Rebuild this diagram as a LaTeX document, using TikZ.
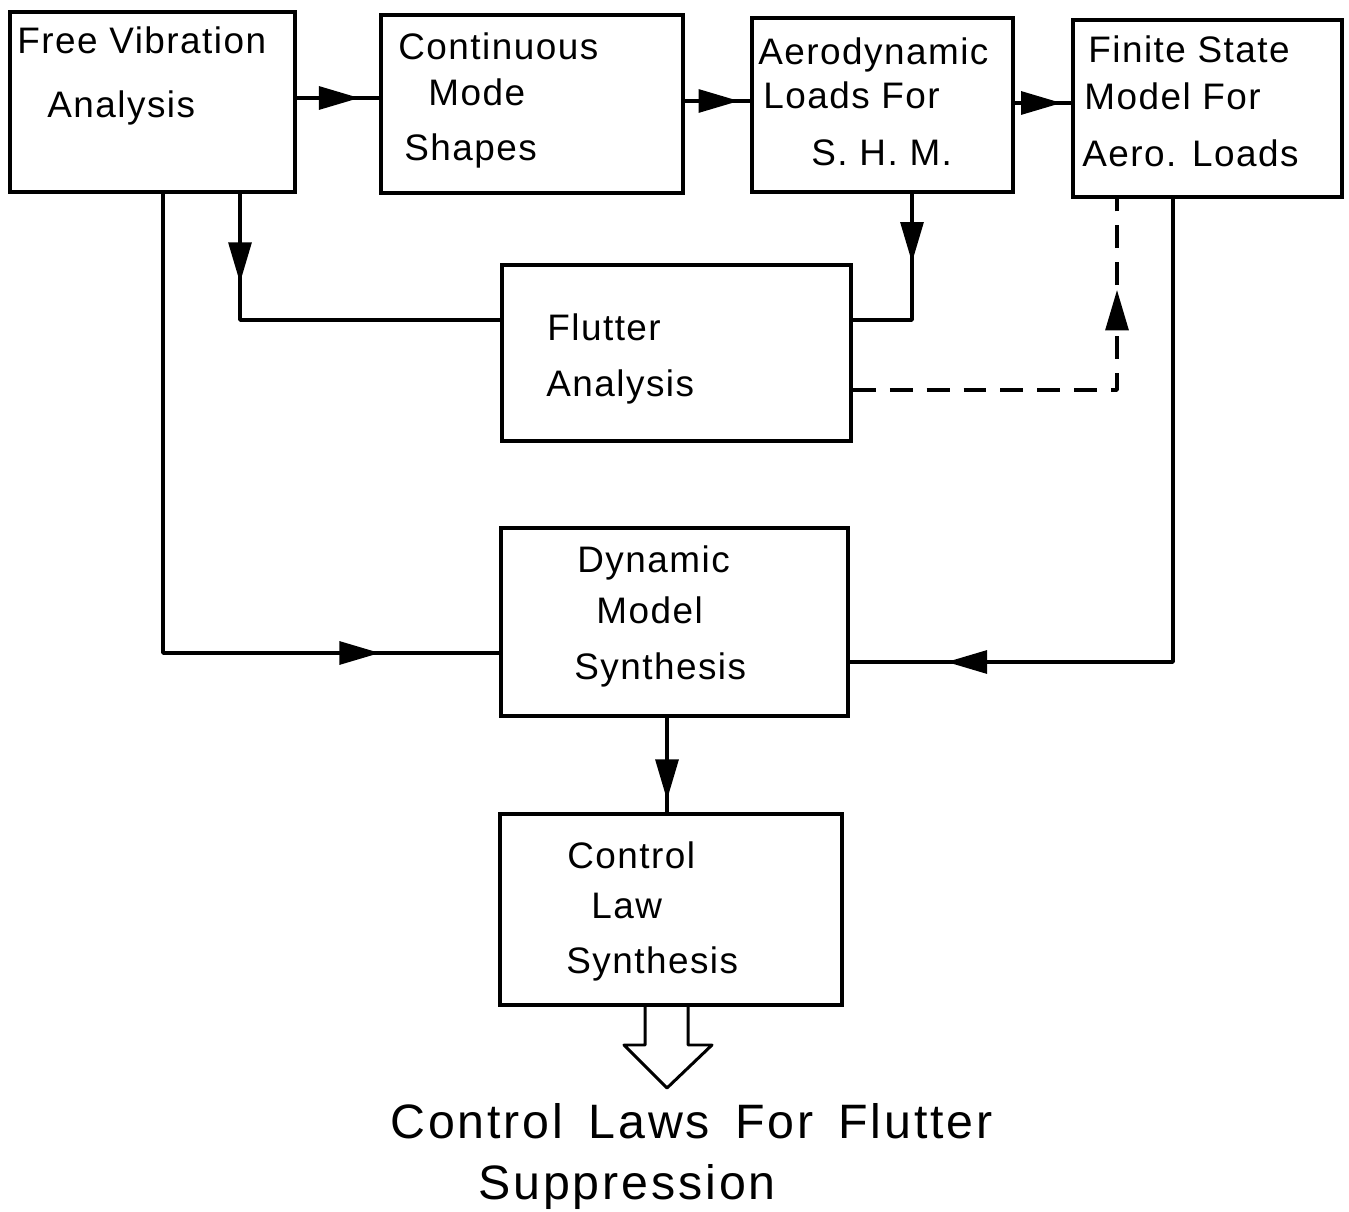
\documentclass[tikz,border=0pt]{standalone}
\usepackage{fontspec}
\setmainfont{Liberation Sans}[LetterSpace=4]
\newfontfamily\capfont{Liberation Sans}[LetterSpace=6]
\usetikzlibrary{arrows.meta,decorations.markings}
\begin{document}
\begin{tikzpicture}[x=0.02cm,y=-0.02cm,
  box/.style={draw,line width=2.2pt,inner sep=0pt},
  lbl/.style={anchor=base west,inner sep=0pt,font=\fontsize{21}{24}\selectfont},
  outlbl/.style={anchor=base west,inner sep=0pt,font=\capfont\fontsize{27.5}{30}\selectfont},
  wire/.style={line width=2pt,line join=round},
  tipat/.style={postaction={decorate},decoration={markings,
    mark=at position #1 with {\arrow{Triangle[length=23pt,width=13pt]}}}},
  dashwire/.style={wire,dash pattern=on 13pt off 8pt}]
\useasboundingbox (0,0) rectangle (1349,1212);

% blocks
\node[box,minimum width=5.70cm,minimum height=3.60cm] (fv)   at (152.5,102) {};
\node[box,minimum width=6.04cm,minimum height=3.56cm] (cms)  at (532,104) {};
\node[box,minimum width=5.22cm,minimum height=3.48cm] (aero) at (882.5,105) {};
\node[box,minimum width=5.38cm,minimum height=3.54cm] (fsm)  at (1207.5,108.5) {};
\node[box,minimum width=6.98cm,minimum height=3.52cm] (flut) at (676.5,353) {};
\node[box,minimum width=6.94cm,minimum height=3.76cm] (dyn)  at (674.5,622) {};
\node[box,minimum width=6.84cm,minimum height=3.82cm] (ctl)  at (671,909.5) {};

% block texts
\node[lbl] (fv1) at (17,54) {Free Vibration};
\node[lbl] (fv2) at (47,118) {Analysis};
\node[lbl] (cm1) at (398,60) {Continuous};
\node[lbl] (cm2) at (428,106) {Mode};
\node[lbl] (cm3) at (404,161) {Shapes};
\node[lbl] (ae1) at (758,65) {Aerodynamic};
\node[lbl] (ae2) at (763,109) {Loads For};
\node[lbl] (ae3) at (811,166) {S. H. M.};
\node[lbl] (fs1) at (1088,63) {Finite State};
\node[lbl] (fs2) at (1084,110) {Model For};
\node[lbl] (fs3) at (1082,167) {Aero. Loads};
\node[lbl] (fl1) at (547,341) {Flutter};
\node[lbl] (fl2) at (546,397) {Analysis};
\node[lbl] (dy1) at (577,573) {Dynamic};
\node[lbl] (dy2) at (596,624) {Model};
\node[lbl] (dy3) at (574,680) {Synthesis};
\node[lbl] (ct1) at (567,868) {Control};
\node[lbl] (ct2) at (591,918) {Law};
\node[lbl] (ct3) at (566,973) {Synthesis};

% top row
\draw[wire,tipat=0.76] (fv.east |- 0,98) -- (cms.west |- 0,98);
\draw[wire,tipat=0.83] (cms.east |- 0,101) -- (aero.west |- 0,101);
\draw[wire,tipat=0.83] (aero.east |- 0,103) -- (fsm.west |- 0,103);

% into flutter analysis
\draw[wire,tipat=0.23] (fv.south -| 240,0) -- (240,320) -- (flut.west |- 0,320);
\draw[wire,tipat=0.37] (aero.south -| 912,0) -- (912,320) -- (flut.east |- 0,320);

% flutter analysis back to the finite state model
\draw[dashwire,tipat=0.80] (flut.east |- 0,390) -- (1117,390) -- (fsm.south -| 1117,0);

% into dynamic model synthesis
\draw[wire,tipat=0.85] (fv.south -| 163,0) -- (163,653) -- (dyn.west |- 0,653);
\draw[wire,tipat=0.877] (fsm.south -| 1173,0) -- (1173,662) -- (dyn.east |- 0,662);
\draw[wire,tipat=0.87] (dyn.south -| 667,0) -- (ctl.north -| 667,0);

% output arrow
\draw[line width=1.7pt,line join=round]
  (ctl.south -| 645,0) -- (645,1045) -- (624,1045) -- (667,1088)
  -- (712,1045) -- (688,1045) -- (ctl.south -| 688,0);

\node[outlbl] (out1) at (390,1138) {Control\hspace{5pt} Laws\hspace{5pt} For\hspace{5pt} Flutter};
\node[outlbl] (out2) at (478,1199) {Suppression};
\end{tikzpicture}
\end{document}
